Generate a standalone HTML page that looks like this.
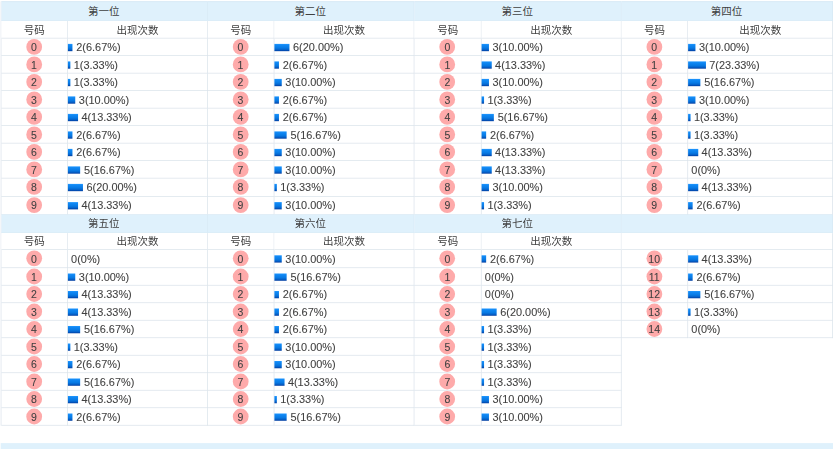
<!DOCTYPE html>
<html lang="zh-CN">
<head>
<meta charset="utf-8">
<title>号码出现次数统计</title>
<style>
html,body{margin:0;padding:0;background:#fff;}
body{width:840px;height:449px;overflow:hidden;position:relative;}
#stage{position:absolute;left:0;top:0;width:1200px;height:642px;transform:scale(0.7);transform-origin:0 0;
  font-family:"Liberation Sans","Noto Sans CJK SC",sans-serif;font-size:15px;color:#404040;}
table.stat{position:absolute;left:1px;top:2px;width:1189px;table-layout:fixed;border-collapse:separate;border-spacing:0;
  border-left:1px solid #d9e2ea;}
table.stat th,table.stat td{padding:0;margin:0;border-right:1px solid #d9e2ea;border-bottom:1px solid #d9e2ea;
  line-height:24px;font-weight:normal;vertical-align:middle;white-space:nowrap;overflow:hidden;box-sizing:border-box;height:25px;}
tr.band th{font-size:15px;padding-right:1.4px;height:28px;line-height:25px;padding-top:2px;background:#dff1fc;border-right-color:#d6e8f4;border-bottom-color:#dbebf6;}
tr.sub th{font-size:15px;height:25px;line-height:22px;padding-top:2px;background:#fff;}
table.stat td.n{text-align:center;line-height:22px;}
table.stat td.v{text-align:left;font-size:15.6px;line-height:22px;}
table.stat td.empty{border-right:0;border-bottom:0;}
.c{display:inline-block;position:relative;z-index:0;width:23px;height:23px;line-height:23.8px;text-align:center;text-indent:-1px;vertical-align:middle;-webkit-text-stroke:0.12px #404040;}
.c::before{content:"";position:absolute;z-index:-1;left:0;top:0;width:23px;height:23px;border-radius:50%;background:#feaaaa;transform:translate(-0.65px,-0.5px) scale(0.98);}
.b{display:inline-block;height:10px;vertical-align:middle;background:linear-gradient(#2398ff 0%,#1088f4 18%,#087ae4 55%,#0562ca 80%,#003a9e 100%);margin-left:-1px;transform-origin:0 0;transform:translate(-0.5px,-0.3px) scaleY(1.04);}
.t{margin-left:4.6px;position:relative;top:0.8px;-webkit-text-stroke:0.12px #404040;}
#foot{position:absolute;left:1px;top:633px;width:1189px;height:12px;background:#dff1fc;}
table.stat tr.tall td{height:26px;}
table.stat tr.band2 th{height:26px;line-height:20px;padding-top:0;padding-bottom:2px;}
table.stat tr.first th{border-top:1px solid #d3e6f3;line-height:24px;}
table.stat tr.last td{border-bottom-color:#d3e6f3;}
table.stat tr.sub2 th{height:24px;line-height:22px;padding-top:0;}
</style>
</head>
<body>
<div id="stage">
<table class="stat">
<colgroup><col style="width:95px"><col style="width:200px"><col style="width:95px"><col style="width:200px"><col style="width:96px"><col style="width:200px"><col style="width:95px"><col style="width:207px"></colgroup>
<tr class="band first"><th colspan="2">第一位</th><th colspan="2">第二位</th><th colspan="2">第三位</th><th colspan="2">第四位</th></tr>
<tr class="sub"><th>号码</th><th>出现次数</th><th>号码</th><th>出现次数</th><th>号码</th><th>出现次数</th><th>号码</th><th>出现次数</th></tr>
<tr><td class="n"><span class="c">0</span></td><td class="v"><i class="b" style="width:8.33px"></i><span class="t">2(6.67%)</span></td><td class="n"><span class="c">0</span></td><td class="v"><i class="b" style="width:23px"></i><span class="t">6(20.00%)</span></td><td class="n"><span class="c">0</span></td><td class="v"><i class="b" style="width:12px"></i><span class="t">3(10.00%)</span></td><td class="n"><span class="c">0</span></td><td class="v"><i class="b" style="width:12px"></i><span class="t">3(10.00%)</span></td></tr>
<tr><td class="n"><span class="c">1</span></td><td class="v"><i class="b" style="width:4.67px"></i><span class="t">1(3.33%)</span></td><td class="n"><span class="c">1</span></td><td class="v"><i class="b" style="width:8.33px"></i><span class="t">2(6.67%)</span></td><td class="n"><span class="c">1</span></td><td class="v"><i class="b" style="width:15.67px"></i><span class="t">4(13.33%)</span></td><td class="n"><span class="c">1</span></td><td class="v"><i class="b" style="width:26.67px"></i><span class="t">7(23.33%)</span></td></tr>
<tr><td class="n"><span class="c">2</span></td><td class="v"><i class="b" style="width:4.67px"></i><span class="t">1(3.33%)</span></td><td class="n"><span class="c">2</span></td><td class="v"><i class="b" style="width:12px"></i><span class="t">3(10.00%)</span></td><td class="n"><span class="c">2</span></td><td class="v"><i class="b" style="width:12px"></i><span class="t">3(10.00%)</span></td><td class="n"><span class="c">2</span></td><td class="v"><i class="b" style="width:19.33px"></i><span class="t">5(16.67%)</span></td></tr>
<tr><td class="n"><span class="c">3</span></td><td class="v"><i class="b" style="width:12px"></i><span class="t">3(10.00%)</span></td><td class="n"><span class="c">3</span></td><td class="v"><i class="b" style="width:8.33px"></i><span class="t">2(6.67%)</span></td><td class="n"><span class="c">3</span></td><td class="v"><i class="b" style="width:4.67px"></i><span class="t">1(3.33%)</span></td><td class="n"><span class="c">3</span></td><td class="v"><i class="b" style="width:12px"></i><span class="t">3(10.00%)</span></td></tr>
<tr><td class="n"><span class="c">4</span></td><td class="v"><i class="b" style="width:15.67px"></i><span class="t">4(13.33%)</span></td><td class="n"><span class="c">4</span></td><td class="v"><i class="b" style="width:8.33px"></i><span class="t">2(6.67%)</span></td><td class="n"><span class="c">4</span></td><td class="v"><i class="b" style="width:19.33px"></i><span class="t">5(16.67%)</span></td><td class="n"><span class="c">4</span></td><td class="v"><i class="b" style="width:4.67px"></i><span class="t">1(3.33%)</span></td></tr>
<tr><td class="n"><span class="c">5</span></td><td class="v"><i class="b" style="width:8.33px"></i><span class="t">2(6.67%)</span></td><td class="n"><span class="c">5</span></td><td class="v"><i class="b" style="width:19.33px"></i><span class="t">5(16.67%)</span></td><td class="n"><span class="c">5</span></td><td class="v"><i class="b" style="width:8.33px"></i><span class="t">2(6.67%)</span></td><td class="n"><span class="c">5</span></td><td class="v"><i class="b" style="width:4.67px"></i><span class="t">1(3.33%)</span></td></tr>
<tr><td class="n"><span class="c">6</span></td><td class="v"><i class="b" style="width:8.33px"></i><span class="t">2(6.67%)</span></td><td class="n"><span class="c">6</span></td><td class="v"><i class="b" style="width:12px"></i><span class="t">3(10.00%)</span></td><td class="n"><span class="c">6</span></td><td class="v"><i class="b" style="width:15.67px"></i><span class="t">4(13.33%)</span></td><td class="n"><span class="c">6</span></td><td class="v"><i class="b" style="width:15.67px"></i><span class="t">4(13.33%)</span></td></tr>
<tr><td class="n"><span class="c">7</span></td><td class="v"><i class="b" style="width:19.33px"></i><span class="t">5(16.67%)</span></td><td class="n"><span class="c">7</span></td><td class="v"><i class="b" style="width:12px"></i><span class="t">3(10.00%)</span></td><td class="n"><span class="c">7</span></td><td class="v"><i class="b" style="width:15.67px"></i><span class="t">4(13.33%)</span></td><td class="n"><span class="c">7</span></td><td class="v"><span class="t">0(0%)</span></td></tr>
<tr class="tall"><td class="n"><span class="c">8</span></td><td class="v"><i class="b" style="width:23px"></i><span class="t">6(20.00%)</span></td><td class="n"><span class="c">8</span></td><td class="v"><i class="b" style="width:4.67px"></i><span class="t">1(3.33%)</span></td><td class="n"><span class="c">8</span></td><td class="v"><i class="b" style="width:12px"></i><span class="t">3(10.00%)</span></td><td class="n"><span class="c">8</span></td><td class="v"><i class="b" style="width:15.67px"></i><span class="t">4(13.33%)</span></td></tr>
<tr class="tall last"><td class="n"><span class="c">9</span></td><td class="v"><i class="b" style="width:15.67px"></i><span class="t">4(13.33%)</span></td><td class="n"><span class="c">9</span></td><td class="v"><i class="b" style="width:12px"></i><span class="t">3(10.00%)</span></td><td class="n"><span class="c">9</span></td><td class="v"><i class="b" style="width:4.67px"></i><span class="t">1(3.33%)</span></td><td class="n"><span class="c">9</span></td><td class="v"><i class="b" style="width:8.33px"></i><span class="t">2(6.67%)</span></td></tr>
<tr class="band band2"><th colspan="2">第五位</th><th colspan="2">第六位</th><th colspan="2">第七位</th><th colspan="2"></th></tr>
<tr class="sub sub2"><th>号码</th><th>出现次数</th><th>号码</th><th>出现次数</th><th>号码</th><th>出现次数</th><th colspan="2"></th></tr>
<tr class="tall"><td class="n"><span class="c">0</span></td><td class="v"><span class="t">0(0%)</span></td><td class="n"><span class="c">0</span></td><td class="v"><i class="b" style="width:12px"></i><span class="t">3(10.00%)</span></td><td class="n"><span class="c">0</span></td><td class="v"><i class="b" style="width:8.33px"></i><span class="t">2(6.67%)</span></td><td class="n"><span class="c">10</span></td><td class="v"><i class="b" style="width:15.67px"></i><span class="t">4(13.33%)</span></td></tr>
<tr><td class="n"><span class="c">1</span></td><td class="v"><i class="b" style="width:12px"></i><span class="t">3(10.00%)</span></td><td class="n"><span class="c">1</span></td><td class="v"><i class="b" style="width:19.33px"></i><span class="t">5(16.67%)</span></td><td class="n"><span class="c">1</span></td><td class="v"><span class="t">0(0%)</span></td><td class="n"><span class="c">11</span></td><td class="v"><i class="b" style="width:8.33px"></i><span class="t">2(6.67%)</span></td></tr>
<tr><td class="n"><span class="c">2</span></td><td class="v"><i class="b" style="width:15.67px"></i><span class="t">4(13.33%)</span></td><td class="n"><span class="c">2</span></td><td class="v"><i class="b" style="width:8.33px"></i><span class="t">2(6.67%)</span></td><td class="n"><span class="c">2</span></td><td class="v"><span class="t">0(0%)</span></td><td class="n"><span class="c">12</span></td><td class="v"><i class="b" style="width:19.33px"></i><span class="t">5(16.67%)</span></td></tr>
<tr><td class="n"><span class="c">3</span></td><td class="v"><i class="b" style="width:15.67px"></i><span class="t">4(13.33%)</span></td><td class="n"><span class="c">3</span></td><td class="v"><i class="b" style="width:8.33px"></i><span class="t">2(6.67%)</span></td><td class="n"><span class="c">3</span></td><td class="v"><i class="b" style="width:23px"></i><span class="t">6(20.00%)</span></td><td class="n"><span class="c">13</span></td><td class="v"><i class="b" style="width:4.67px"></i><span class="t">1(3.33%)</span></td></tr>
<tr><td class="n"><span class="c">4</span></td><td class="v"><i class="b" style="width:19.33px"></i><span class="t">5(16.67%)</span></td><td class="n"><span class="c">4</span></td><td class="v"><i class="b" style="width:8.33px"></i><span class="t">2(6.67%)</span></td><td class="n"><span class="c">4</span></td><td class="v"><i class="b" style="width:4.67px"></i><span class="t">1(3.33%)</span></td><td class="n"><span class="c">14</span></td><td class="v"><span class="t">0(0%)</span></td></tr>
<tr><td class="n"><span class="c">5</span></td><td class="v"><i class="b" style="width:4.67px"></i><span class="t">1(3.33%)</span></td><td class="n"><span class="c">5</span></td><td class="v"><i class="b" style="width:12px"></i><span class="t">3(10.00%)</span></td><td class="n"><span class="c">5</span></td><td class="v"><i class="b" style="width:4.67px"></i><span class="t">1(3.33%)</span></td><td class="empty" colspan="2" rowspan="5"></td></tr>
<tr><td class="n"><span class="c">6</span></td><td class="v"><i class="b" style="width:8.33px"></i><span class="t">2(6.67%)</span></td><td class="n"><span class="c">6</span></td><td class="v"><i class="b" style="width:12px"></i><span class="t">3(10.00%)</span></td><td class="n"><span class="c">6</span></td><td class="v"><i class="b" style="width:4.67px"></i><span class="t">1(3.33%)</span></td></tr>
<tr><td class="n"><span class="c">7</span></td><td class="v"><i class="b" style="width:19.33px"></i><span class="t">5(16.67%)</span></td><td class="n"><span class="c">7</span></td><td class="v"><i class="b" style="width:15.67px"></i><span class="t">4(13.33%)</span></td><td class="n"><span class="c">7</span></td><td class="v"><i class="b" style="width:4.67px"></i><span class="t">1(3.33%)</span></td></tr>
<tr><td class="n"><span class="c">8</span></td><td class="v"><i class="b" style="width:15.67px"></i><span class="t">4(13.33%)</span></td><td class="n"><span class="c">8</span></td><td class="v"><i class="b" style="width:4.67px"></i><span class="t">1(3.33%)</span></td><td class="n"><span class="c">8</span></td><td class="v"><i class="b" style="width:12px"></i><span class="t">3(10.00%)</span></td></tr>
<tr><td class="n"><span class="c">9</span></td><td class="v"><i class="b" style="width:8.33px"></i><span class="t">2(6.67%)</span></td><td class="n"><span class="c">9</span></td><td class="v"><i class="b" style="width:19.33px"></i><span class="t">5(16.67%)</span></td><td class="n"><span class="c">9</span></td><td class="v"><i class="b" style="width:12px"></i><span class="t">3(10.00%)</span></td></tr>
</table>
<div id="foot"></div>
</div>
</body>
</html>
